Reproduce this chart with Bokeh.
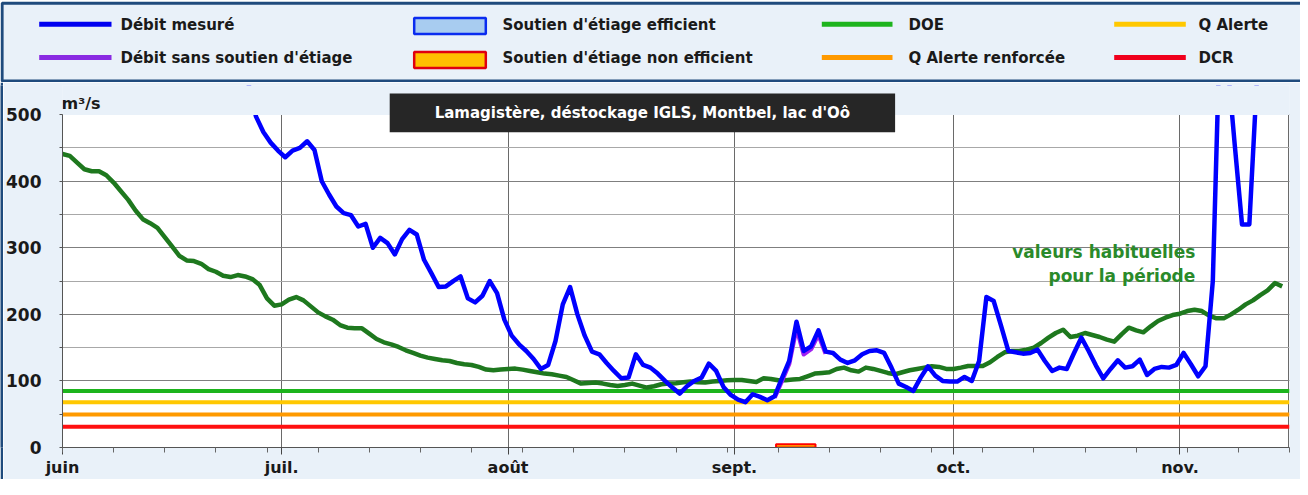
from bokeh.plotting import figure
from bokeh.layouts import column, row
from bokeh.models import Range1d, FixedTicker, SingleIntervalTicker, Span, Label, BoxAnnotation
from bokeh.embed import file_html
from bokeh.resources import INLINE
from bokeh.core.properties import value

FONT = "DejaVu Sans"
NAVY = "#1F4B7D"
LIGHT = "#E9F1F9"

# ---------------- data ----------------
month_days = [0, 30, 61, 92, 122, 153]
month_labels = ["juin", "juil.", "août", "sept.", "oct.", "nov."]
week_ticks = [0, 7, 14, 21, 28, 35, 42, 49, 56, 63, 70, 77, 84, 91, 98, 105,
              112, 119, 126, 133, 140, 147, 154, 161, 168]
x_end = 168
y_top_value = 500
y_frame_top = 543.8

# usual values for the period (daily, from 1 June)
usual_flow = [441, 438, 428, 418, 415, 415, 409, 398, 385, 372, 356, 343, 337, 330, 316, 302,
              288, 281, 280, 276, 268, 264, 258, 256, 259, 257, 253, 244, 224, 213, 215, 222,
              226, 221, 212, 203, 197, 192, 184, 180, 179, 179, 171, 163, 158, 155, 151, 146,
              142, 138, 135, 133, 131, 130, 127, 125, 124, 121, 117, 116, 117, 118, 118.5, 117,
              115, 113, 111, 110, 108, 106, 101, 96, 97, 97.5, 96, 94, 92.5, 94, 96, 93,
              90, 92, 95, 96, 96.5, 98, 99, 98, 97.5, 99, 100, 101, 101.5, 101.5, 100, 98.5,
              104, 103, 101, 101, 102, 103, 107, 111, 112, 113, 118, 120, 116, 114, 120, 118,
              115, 112, 110, 113, 116, 118, 120, 122, 121, 118, 118, 120, 122.5, 122.5, 122.5, 128,
              136, 143, 145, 145, 147, 150, 157, 165, 172, 177, 166, 168, 172, 169, 166, 162,
              159, 170, 180, 176, 173, 182, 190, 195, 199, 201, 205, 207, 205, 198, 194, 194,
              200, 207, 215, 221, 229, 236, 247, 242]
usual_start_day = 0

# measured flow (daily, first value on day 24 = 25 June)
measured_flow = [620, 545, 497, 474, 458, 446, 436, 446, 450, 460, 447, 400, 380, 362, 352, 349,
                 332, 336, 300, 315, 307, 290, 313, 327, 320, 282, 262, 241, 242, 250, 257, 224,
                 218, 228, 250, 232, 192, 168, 155, 145, 133, 118, 124, 160, 215, 241, 200, 168,
                 144, 140, 127, 115, 104, 105, 140, 124, 120, 111, 100, 90, 81, 92, 100, 105,
                 126, 115, 91, 79, 72, 68, 80, 76, 71, 77, 104, 130, 189, 145, 152, 176,
                 144, 142, 132, 127, 131, 140, 145, 146, 142, 120, 96, 91, 85, 105, 122, 108,
                 100, 99, 99, 106, 100, 130, 226, 220, 183, 145, 143, 141, 142, 147, 130, 115,
                 120, 118, 142, 165, 145, 123, 104, 118, 131, 120, 122, 132, 109, 118, 121, 120,
                 124, 142, 125, 107, 122, 250, 640, 580, 455, 335, 335, 545, 680]
measured_start_day = 24

# flow without low-water support (daily, first value on day 97)
natural_flow = [75, 100, 126, 180, 140, 148, 170, 141]
natural_start_day = 97

# non-efficient support period (days from 1 June)
non_eff_start = [97.7]
non_eff_end = [103.1]
non_eff_height = [5]

# thresholds (m3/s)
DOE = 85
Q_ALERTE = 68
Q_ALERTE_RENF = 49.5
DCR = 31

measured_x = [measured_start_day + i + 0.5 for i in range(len(measured_flow))]
natural_x = [natural_start_day + i + 0.5 for i in range(len(natural_flow))]
usual_x = [usual_start_day + i for i in range(len(usual_flow))]

# ---------------- legend strip ----------------
lg = figure(width=1300, height=82, x_range=Range1d(0, 1300), y_range=Range1d(82, 0),
            output_backend="svg", toolbar_location=None, title=None,
            x_axis_location=None, y_axis_location=None, min_border=0,
            outline_line_color=None, background_fill_color="white",
            border_fill_color="white")
lg.grid.visible = False
lg.quad(left=[1.6], right=[1320], top=[2.8], bottom=[80.6],
        fill_color=LIGHT, line_color=NAVY, line_width=3)

line_items = [
    ("Débit mesuré", "#0000F0", 0, 0),
    ("Débit sans soutien d'étiage", "#8A2BE2", 0, 1),
    ("DOE", "#1DB41D", 2, 0),
    ("Q Alerte renforcée", "#FF9A00", 2, 1),
    ("Q Alerte", "#FFC800", 3, 0),
    ("DCR", "#F0001C", 3, 1),
]
box_items = [
    ("Soutien d'étiage efficient", "#A8CCF0", "#0A2CF0", 1, 0),
    ("Soutien d'étiage non efficient", "#FFC000", "#E00010", 1, 1),
]
col_glyph = [(38.7, 111), (413.7, 485.3), (821.3, 892), (1113.7, 1185.3)]
col_text = [120, 502, 908, 1198]
row_y = [23.8, 57.0]
row_box = [(17.5, 33.5), (51.5, 67.5)]

for lab, colr, c, r in line_items:
    lg.segment(x0=[col_glyph[c][0]], y0=[row_y[r]], x1=[col_glyph[c][1]], y1=[row_y[r]],
               line_color=colr, line_width=5)
for lab, fillc, linec, c, r in box_items:
    lg.quad(left=[col_glyph[c][0]], right=[col_glyph[c][1]], top=[row_box[r][0]],
            bottom=[row_box[r][1]], fill_color=fillc, line_color=linec, line_width=2.5)
texts = [(it[0], it[-2], it[-1]) for it in line_items + box_items]
lg.text(x=[col_text[c] for _, c, r in texts], y=[row_y[r] + 0.5 for _, c, r in texts],
        text=[t for t, _, _ in texts], text_font=value(FONT), text_font_size="15px",
        text_font_style="bold", text_color="#1a1a1a", text_baseline="middle",
        text_align="left")

# ---------------- left border ----------------
edge = figure(width=3, height=397, output_backend="svg", toolbar_location=None, title=None,
              x_axis_location=None, y_axis_location=None, min_border=0,
              outline_line_color=None, background_fill_color=NAVY, border_fill_color=NAVY)
edge.grid.visible = False

# ---------------- main chart ----------------
# frame extends above 500 so that the title box and unit label are not clipped
p = figure(width=1297, height=397, x_range=Range1d(0, x_end), y_range=Range1d(0, y_frame_top),
           output_backend="svg", toolbar_location=None, title=None,
           min_border_left=59, min_border_right=11, min_border_top=3, min_border_bottom=30,
           background_fill_color=LIGHT, border_fill_color=LIGHT,
           outline_line_color=None)

# white plotting area 0..500
p.add_layout(BoxAnnotation(bottom=0, top=y_top_value, fill_color="white", fill_alpha=1,
                           line_color=None, level="image"))

yt = SingleIntervalTicker(interval=100, num_minor_ticks=2)
p.yaxis.ticker = yt
p.ygrid.ticker = yt
p.yaxis.bounds = (0, y_top_value)
p.yaxis.major_tick_out = 0
p.yaxis.major_tick_in = 0
p.yaxis.minor_tick_out = 3
p.yaxis.minor_tick_in = 0
p.yaxis.major_label_standoff = 18
p.yaxis.major_label_text_font = FONT
p.yaxis.major_label_text_font_size = "17px"
p.yaxis.major_label_text_font_style = "bold"
p.yaxis.major_label_text_color = "#1a1a1a"
p.yaxis.axis_line_color = "#555555"
p.yaxis.minor_tick_line_color = "#555555"
p.ygrid.grid_line_color = "#7f7f7f"
p.ygrid.minor_grid_line_color = "#a8a8a8"
p.ygrid.bounds = (0, y_top_value)

p.xaxis.ticker = FixedTicker(ticks=month_days, minor_ticks=week_ticks)
p.xaxis.major_label_overrides = {d: lab for d, lab in zip(month_days, month_labels)}
p.xaxis.major_tick_out = 7
p.xaxis.major_tick_in = 0
p.xaxis.minor_tick_out = 5
p.xaxis.minor_tick_in = 0
p.xaxis.major_label_standoff = 3
p.xaxis.major_label_text_font = FONT
p.xaxis.major_label_text_font_size = "16px"
p.xaxis.major_label_text_font_style = "bold"
p.xaxis.major_label_text_color = "#1a1a1a"
p.xaxis.axis_line_color = "#555555"
p.xaxis.major_tick_line_color = "#444444"
p.xaxis.minor_tick_line_color = "#666666"
p.xgrid.ticker = FixedTicker(ticks=month_days + [x_end - 0.08])
p.xgrid.grid_line_color = "#6a6a6a"
p.xgrid.cross_bounds = (0, y_top_value)

for lvl, colr in [(DOE, "#1DB41D"), (Q_ALERTE, "#FFC800"), (Q_ALERTE_RENF, "#FF9A00"), (DCR, "#FF1010")]:
    p.add_layout(Span(location=lvl, dimension="width", line_color=colr, line_width=4,
                      level="underlay"))

p.quad(left=non_eff_start, right=non_eff_end, bottom=[0] * len(non_eff_start), top=non_eff_height,
       fill_color="#FFC000", line_color="#FF0000", line_width=2)

p.line(usual_x, usual_flow, line_color="#1E781E", line_width=4.5, line_join="round")
p.line(natural_x, natural_flow, line_color="#A020F0", line_width=4.5, line_join="round")
p.line(measured_x, measured_flow, line_color="#0000FF", line_width=4.5, line_join="round")

# area above 500 belongs to the chart margin: mask anything drawn past the top of the scale
p.quad(left=[-20], right=[x_end + 20], bottom=[y_top_value + 0.8], top=[y_frame_top + 80],
       fill_color=LIGHT, fill_alpha=1, line_color=LIGHT, line_width=2)

# title box (drawn over the top of the plotting area)
p.add_layout(BoxAnnotation(left=44.8, right=114.0, bottom=473.6, top=531.9,
                           fill_color="#262626", fill_alpha=1, line_color=None))
p.add_layout(Label(x=79.4, y=502.7, text="Lamagistère, déstockage IGLS, Montbel, lac d'Oô",
                   text_align="center", text_baseline="middle", text_color="white",
                   text_font=FONT, text_font_size="15px", text_font_style="bold"))
p.add_layout(Label(x=0, y=y_top_value, text="m³/s", text_align="left", text_baseline="bottom",
                   x_offset=-1, y_offset=2, text_font=FONT, text_font_size="16px",
                   text_font_style="bold", text_color="#1a1a1a"))
p.add_layout(Label(x=155.1, y=293.6, text="valeurs habituelles", text_align="right",
                   text_baseline="middle", text_font=FONT, text_font_size="17px",
                   text_font_style="bold", text_color="#2A8A2A"))
p.add_layout(Label(x=155.1, y=257.7, text="pour la période", text_align="right",
                   text_baseline="middle", text_font=FONT, text_font_size="17px",
                   text_font_style="bold", text_color="#2A8A2A"))

layout = column(lg, row(edge, p))
open("out.html", "w").write(file_html(layout, INLINE))
